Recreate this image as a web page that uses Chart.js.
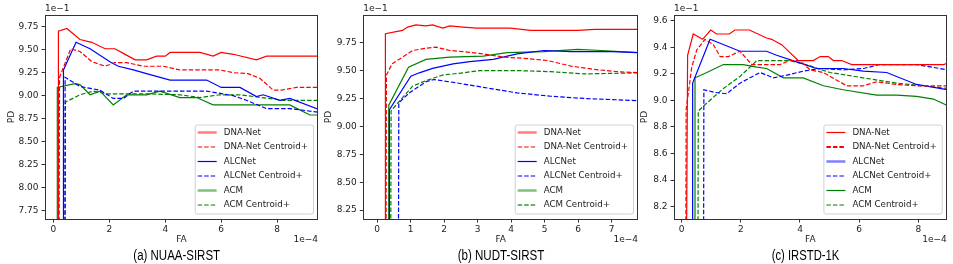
<!DOCTYPE html>
<html>
<head>
<meta charset="utf-8">
<script src="https://cdn.jsdelivr.net/npm/chart.js@4.4.0/dist/chart.umd.min.js"></script>
<style>
  body { margin: 0; background: #fff; width: 953px; height: 264px; overflow: hidden; position: relative; }
  canvas { position: absolute; top: 0; }
</style>
</head>
<body>
<canvas id="chartA" width="320" height="264" style="left:0px"></canvas>
<canvas id="chartB" width="320" height="264" style="left:320px"></canvas>
<canvas id="chartC" width="313" height="264" style="left:640px"></canvas>
<script>
// series names (same order in every panel)
const seriesNames = ['DNA-Net', 'DNA-Net Centroid+', 'ALCNet', 'ALCNet Centroid+', 'ACM', 'ACM Centroid+'];

// FA in units of 1e-4, PD in units of 1e-1
// (a) NUAA-SIRST
const nuaaDna   = [[0.17,7.0],[0.18,9.70],[0.48,9.73],[0.95,9.61],[1.37,9.58],[1.85,9.51],[2.2,9.51],[2.5,9.46],[2.92,9.39],[3.33,9.39],[3.69,9.43],[4.0,9.43],[4.17,9.47],[5.24,9.47],[5.71,9.43],[6.0,9.47],[6.43,9.45],[7.26,9.39],[7.62,9.43],[9.5,9.43]];
const nuaaDnaC  = [[0.2,7.0],[0.22,9.2],[0.62,9.51],[0.95,9.48],[1.37,9.37],[1.85,9.32],[2.2,9.36],[2.62,9.36],[3.21,9.32],[3.93,9.32],[4.52,9.28],[5.95,9.28],[6.43,9.25],[6.96,9.24],[7.38,9.19],[7.86,9.06],[8.15,9.06],[8.69,9.09],[9.5,9.09]];
const nuaaAlc   = [[0.35,7.0],[0.36,9.28],[0.81,9.58],[1.31,9.51],[2.02,9.37],[2.32,9.32],[2.86,9.28],[3.33,9.24],[4.17,9.17],[5.48,9.17],[6.0,9.09],[6.67,9.09],[7.26,8.99],[7.5,9.01],[8.1,8.95],[8.45,8.97],[9.5,8.85]];
const nuaaAlcC  = [[0.41,7.0],[0.42,9.20],[0.95,9.10],[1.67,9.06],[2.14,8.97],[2.5,8.97],[2.86,9.05],[5.48,9.05],[6.43,9.0],[6.9,8.95],[7.62,8.86],[8.45,8.86],[9.5,8.82]];
const nuaaAcm   = [[0.13,7.0],[0.14,9.09],[0.77,9.13],[0.95,9.12],[1.31,9.01],[1.67,9.05],[2.14,8.90],[2.62,9.01],[3.33,9.01],[3.81,9.05],[4.52,8.98],[5.12,8.98],[5.71,8.90],[8.45,8.90],[9.17,8.79],[9.5,8.79]];
const nuaaAcmC  = [[0.42,7.0],[0.43,8.93],[0.95,9.01],[1.43,9.05],[1.9,9.02],[3.33,9.02],[4.52,9.01],[5.24,8.98],[5.95,9.01],[6.67,9.01],[8.21,8.95],[9.5,8.95]];
const nuaaXTicks = [0, 2, 4, 6, 8];
const nuaaYTicks = [7.75, 8.00, 8.25, 8.50, 8.75, 9.00, 9.25, 9.50, 9.75];

// (b) NUDT-SIRST
const nudtDna   = [[0.24,8.0],[0.25,9.83],[0.76,9.86],[0.91,9.89],[1.16,9.91],[1.46,9.90],[1.66,9.91],[1.96,9.88],[2.17,9.90],[2.57,9.89],[2.97,9.88],[3.98,9.88],[4.58,9.86],[5.19,9.86],[5.99,9.86],[6.5,9.87],[7.85,9.87]];
const nudtDnaC  = [[0.27,8.0],[0.28,9.46],[0.45,9.56],[0.76,9.62],[1.06,9.68],[1.46,9.70],[1.76,9.71],[2.17,9.68],[2.57,9.67],[3.17,9.65],[3.78,9.62],[4.38,9.61],[5.09,9.59],[5.79,9.54],[6.5,9.51],[7.2,9.49],[7.85,9.48]];
const nudtAlc   = [[0.36,8.0],[0.37,9.15],[1.01,9.45],[1.26,9.48],[1.66,9.52],[2.27,9.56],[2.77,9.58],[3.47,9.60],[4.18,9.65],[4.98,9.68],[5.79,9.67],[7.0,9.67],[7.85,9.66]];
const nudtAlcC  = [[0.64,8.0],[0.65,9.21],[0.96,9.30],[1.46,9.40],[1.7,9.42],[2.37,9.39],[3.17,9.35],[4.18,9.30],[5.19,9.27],[6.19,9.25],[7.85,9.23]];
const nudtAcm   = [[0.34,8.0],[0.35,9.19],[0.94,9.53],[1.46,9.60],[2.17,9.62],[3.17,9.63],[3.88,9.66],[4.98,9.67],[5.99,9.69],[6.7,9.68],[7.85,9.66]];
const nudtAcmC  = [[0.41,8.0],[0.42,9.14],[1.06,9.36],[1.46,9.41],[1.96,9.46],[2.57,9.48],[3.07,9.50],[4.18,9.50],[5.19,9.49],[6.19,9.47],[7.85,9.48]];
const nudtXTicks = [0, 1, 2, 3, 4, 5, 6, 7];
const nudtYTicks = [8.25, 8.50, 8.75, 9.00, 9.25, 9.50, 9.75];

// (c) IRSTD-1K
const irstdDna  = [[0.16,7.8],[0.2,9.34],[0.39,9.50],[0.71,9.46],[0.98,9.53],[1.18,9.50],[1.61,9.50],[1.8,9.53],[2.29,9.53],[2.87,9.47],[3.04,9.46],[3.38,9.42],[3.66,9.36],[3.94,9.30],[4.45,9.30],[4.68,9.33],[4.96,9.33],[5.13,9.30],[5.41,9.30],[5.75,9.27],[8.85,9.27],[9.0,9.28]];
const irstdDnaC = [[0.14,7.8],[0.15,8.93],[0.34,9.25],[0.51,9.38],[0.79,9.46],[1.07,9.42],[1.3,9.33],[1.58,9.33],[1.97,9.37],[2.37,9.27],[3.32,9.27],[3.66,9.30],[4.0,9.30],[4.34,9.23],[4.79,9.21],[5.58,9.11],[6.14,9.11],[6.59,9.14],[7.27,9.12],[7.94,9.11],[9.0,9.11]];
const irstdAlc  = [[0.36,7.8],[0.37,9.13],[0.96,9.46],[1.97,9.37],[2.87,9.37],[3.21,9.34],[3.89,9.29],[4.56,9.24],[5.46,9.24],[6.14,9.22],[6.93,9.21],[7.94,9.12],[9.0,9.08]];
const irstdAlcC = [[0.74,7.8],[0.75,9.08],[1.13,9.06],[1.52,9.05],[1.97,9.13],[2.65,9.21],[3.1,9.17],[3.55,9.19],[4.11,9.22],[4.68,9.24],[5.46,9.23],[6.14,9.24],[6.7,9.27],[7.94,9.27],[9.0,9.23]];
const irstdAcm  = [[0.44,7.8],[0.45,9.17],[0.85,9.21],[1.41,9.27],[2.08,9.27],[2.54,9.25],[2.87,9.24],[3.44,9.17],[4.11,9.17],[4.79,9.11],[5.46,9.08],[6.59,9.04],[7.27,9.04],[7.94,9.03],[8.51,9.01],[9.0,8.96]];
const irstdAcmC = [[0.55,7.8],[0.56,8.92],[0.85,8.98],[1.41,9.09],[1.97,9.18],[2.54,9.30],[2.99,9.30],[3.66,9.30],[4.34,9.26],[5.01,9.21],[6.14,9.17],[7.27,9.13],[9.0,9.09]];
const irstdXTicks = [0, 2, 4, 6, 8];
const irstdYTicks = [8.2, 8.4, 8.6, 8.8, 9.0, 9.2, 9.4, 9.6];

const colors = ['#ff0000', '#ff0000', '#0000ff', '#0000ff', '#008000', '#008000'];
const dashes = [[], [4.5, 2], [], [4.5, 2], [], [4.5, 2]];
const FONT = '"DejaVu Sans", sans-serif';

// text, frame and legend drawn on top of the chart
const decoPlugin = {
  id: 'deco',
  afterDraw(chart, args, o) {
    const ctx = chart.ctx;
    const a = chart.chartArea;
    ctx.save();
    // frame
    ctx.strokeStyle = '#333';
    ctx.lineWidth = 1;
    ctx.strokeRect(Math.round(a.left) + 0.5, Math.round(a.top) + 0.5, Math.round(a.right - a.left) - 1, Math.round(a.bottom - a.top));
    ctx.fillStyle = '#222';
    ctx.font = '9px ' + FONT;
    ctx.textBaseline = 'middle';
    // exponents
    ctx.textAlign = 'left';
    ctx.fillText('1e\u22121', a.left, 8.5);
    ctx.textAlign = 'right';
    ctx.fillText('1e\u22124', a.right, 240);
    // axis titles
    ctx.textAlign = 'center';
    ctx.fillText('FA', (a.left + a.right) / 2, 240);
    ctx.save();
    ctx.translate(a.left - o.pdOffset, (a.top + a.bottom) / 2);
    ctx.rotate(-Math.PI / 2);
    ctx.fillText('PD', 0, 0);
    ctx.restore();
    // caption, squeezed to the width of the original
    ctx.fillStyle = '#000';
    ctx.font = '14px "Liberation Sans Narrow", "Liberation Sans", sans-serif';
    const w = ctx.measureText(o.caption).width;
    ctx.save();
    ctx.translate(o.captionX, 256.5);
    ctx.scale(o.captionW / w, 1);
    ctx.fillText(o.caption, 0, 0);
    ctx.restore();
    // legend
    ctx.font = '8.7px ' + FONT;
    const items = chart.data.datasets;
    let tw = 0;
    items.forEach(d => { tw = Math.max(tw, ctx.measureText(d.label).width); });
    const bw = 29 + tw + 5, bh = 89, row = 14.5;
    const bx = a.right - 5 - bw, by = a.bottom - 5.5 - bh;
    ctx.fillStyle = 'rgba(255,255,255,0.85)';
    ctx.strokeStyle = '#d0d0d0';
    ctx.lineWidth = 1;
    ctx.beginPath();
    ctx.roundRect(bx + 0.5, by + 0.5, bw, bh, 2);
    ctx.fill();
    ctx.stroke();
    items.forEach((d, i) => {
      const y = by + 8 + i * row;
      const st = o.legendStyle[i];
      ctx.save();
      ctx.globalAlpha = st[1];
      ctx.strokeStyle = d.borderColor;
      ctx.lineWidth = st[0];
      ctx.setLineDash(d.borderDash);
      ctx.beginPath();
      ctx.moveTo(bx + 3, y);
      ctx.lineTo(bx + 22, y);
      ctx.stroke();
      ctx.restore();
      ctx.fillStyle = '#222';
      ctx.textAlign = 'left';
      ctx.fillText(d.label, bx + 29, y);
    });
    ctx.restore();
  }
};

function makeChart(id, series, xTicks, yTicks, xRange, yRange, axisLeft, padRight, yDigits, deco) {
  const datasets = series.map((pts, i) => ({
    label: seriesNames[i],
    data: pts.map(p => ({ x: p[0], y: p[1] })),
    borderColor: colors[i],
    borderDash: dashes[i],
    borderWidth: 1.2,
    pointRadius: 0,
    tension: 0,
    fill: false
  }));
  return new Chart(document.getElementById(id), {
    type: 'line',
    data: { datasets: datasets },
    options: {
      responsive: false,
      animation: false,
      devicePixelRatio: 1,
      layout: { padding: { left: 0, right: padRight, top: 15, bottom: 0 } },
      plugins: { legend: { display: false }, tooltip: { enabled: false }, deco: deco },
      scales: {
        x: {
          type: 'linear',
          min: xRange[0], max: xRange[1],
          afterBuildTicks: s => { s.ticks = xTicks.map(v => ({ value: v })); },
          afterFit: s => { s.height = 45; },
          grid: { drawOnChartArea: false, tickLength: 3.5, color: '#333' },
          border: { display: false },
          ticks: { autoSkip: false, maxRotation: 0, padding: 2, color: '#222', font: { family: 'DejaVu Sans', size: 9 }, callback: v => String(v) }
        },
        y: {
          type: 'linear',
          min: yRange[0], max: yRange[1],
          afterBuildTicks: s => { s.ticks = yTicks.map(v => ({ value: v })); },
          afterFit: s => { s.width = axisLeft; },
          grid: { drawOnChartArea: false, tickLength: 3.5, color: '#333' },
          border: { display: false },
          ticks: { autoSkip: false, padding: 3, color: '#222', font: { family: 'DejaVu Sans', size: 9 }, callback: v => v.toFixed(yDigits) }
        }
      }
    },
    plugins: [decoPlugin]
  });
}

makeChart('chartA', [nuaaDna, nuaaDnaC, nuaaAlc, nuaaAlcC, nuaaAcm, nuaaAcmC],
  nuaaXTicks, nuaaYTicks, [-0.3, 9.46], [7.66, 9.877], 45, 2, 2,
  { caption: '(a) NUAA-SIRST', captionX: 176.7, captionW: 86.7, pdOffset: 33,
    legendStyle: [[2.5, 0.5], [1, 1], [1.2, 1], [1.2, 1], [2.5, 0.5], [2.2, 0.5]] });

makeChart('chartB', [nudtDna, nudtDnaC, nudtAlc, nudtAlcC, nudtAcm, nudtAcmC],
  nudtXTicks, nudtYTicks, [-0.41, 7.79], [8.17, 9.998], 43.3, 2, 2,
  { caption: '(b) NUDT-SIRST', captionX: 181, captionW: 86.7, pdOffset: 35,
    legendStyle: [[2.5, 0.5], [1, 1], [1.2, 1], [1.2, 1], [2.5, 0.5], [1.5, 0.8]] });

makeChart('chartC', [irstdDna, irstdDnaC, irstdAlc, irstdAlcC, irstdAcm, irstdAcmC],
  irstdXTicks, irstdYTicks, [-0.26, 8.96], [8.107, 9.643], 34, 6.3, 1,
  { caption: '(c) IRSTD-1K', captionX: 165.5, captionW: 67.7, pdOffset: 29,
    legendStyle: [[1.2, 1], [2.2, 1], [2.5, 0.5], [2.2, 0.5], [1.2, 1], [1.2, 1]] });
</script>
</body>
</html>
